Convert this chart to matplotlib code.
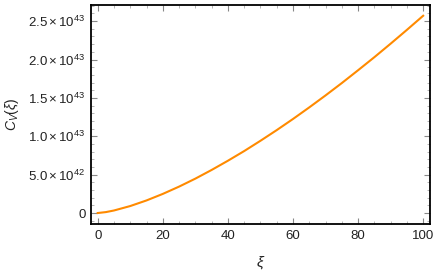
import numpy as np
import matplotlib
matplotlib.use("Agg")
from matplotlib import pyplot as plt
from matplotlib.ticker import MultipleLocator, FixedLocator

# values (C_V in units of 1e43)
xi = [0, 2.5, 5, 10, 15, 20, 25, 30, 35, 40, 45, 50,
      55, 60, 65, 70, 75, 80, 85, 90, 95, 100]
cv = [0.000, 0.012, 0.033, 0.091, 0.164, 0.249, 0.344, 0.448, 0.561, 0.681, 0.807, 0.941,
      1.080, 1.225, 1.376, 1.532, 1.693, 1.860, 2.030, 2.206, 2.386, 2.570]

y_ticks = [0, 0.5e43, 1.0e43, 1.5e43, 2.0e43, 2.5e43]
y_labels = ["0", r"$5.0\times10^{42}$", r"$1.0\times10^{43}$",
            r"$1.5\times10^{43}$", r"$2.0\times10^{43}$", r"$2.5\times10^{43}$"]

plt.rcParams.update({
    "font.family": "Liberation Sans",
    "mathtext.fontset": "custom",
    "mathtext.rm": "Liberation Sans",
    "mathtext.it": "Liberation Sans:italic",
    "font.size": 9.5,
})

fig = plt.figure(figsize=(4.36, 2.73), dpi=100)
ax = fig.add_axes([91/436, 1-224/273, 339/436, 219/273])

ax.plot(xi, np.array(cv)*1e43, color="#ff8a00", linewidth=1.5)

ax.set_xlim(-2.06, 102.1)
ax.set_ylim(-0.143e43, 2.71e43)

ax.xaxis.set_major_locator(MultipleLocator(20))
ax.xaxis.set_minor_locator(MultipleLocator(5))
ax.yaxis.set_major_locator(FixedLocator(y_ticks))
ax.yaxis.set_minor_locator(MultipleLocator(0.1e43))
ax.set_yticklabels(y_labels)

ax.tick_params(which="both", direction="in", top=True, right=True,
               labelcolor="#222222")
ax.tick_params(which="major", length=4, width=0.8, color="#888888")
ax.tick_params(which="minor", length=2, width=0.6, color="#aaaaaa")
ax.tick_params(axis="both", labelsize=9.5, pad=4)
ax.tick_params(axis="x", labeltop=False)

for s in ax.spines.values():
    s.set_linewidth(1.3)
    s.set_color("black")

ax.set_xlabel(r"$\xi$", fontsize=11, color="#222222", labelpad=9)
ax.set_ylabel(r"$C_V(\xi)$", fontsize=10, color="#222222", labelpad=5)

fig.savefig("out.png", dpi=100)
